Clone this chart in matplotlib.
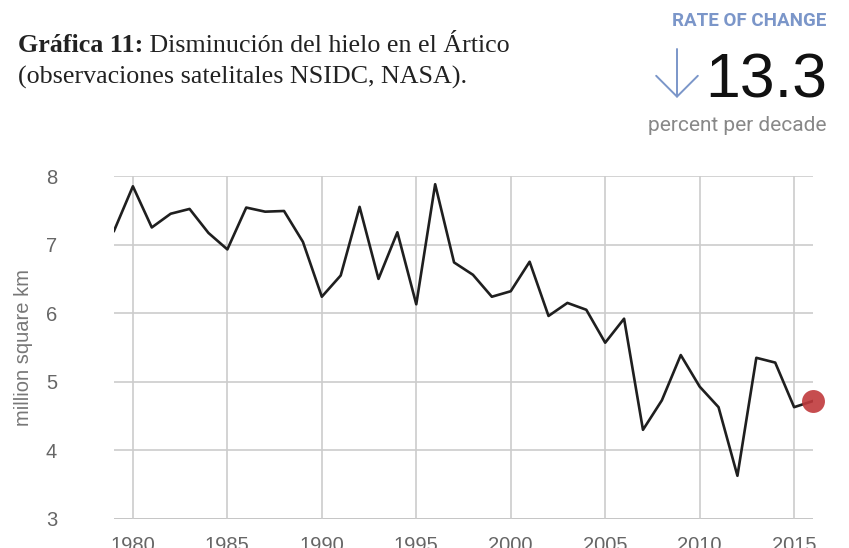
import matplotlib
matplotlib.use("Agg")
import matplotlib.pyplot as plt

years = list(range(1979, 2017))
extent = [7.20, 7.85, 7.25, 7.45, 7.52, 7.17, 6.93, 7.54, 7.48, 7.49,
          7.04, 6.24, 6.55, 7.55, 6.50, 7.18, 6.13, 7.88, 6.74, 6.56,
          6.24, 6.32, 6.75, 5.96, 6.15, 6.05, 5.57, 5.92, 4.30, 4.73,
          5.39, 4.93, 4.63, 3.63, 5.35, 5.28, 4.63, 4.72]

x_ticks = [1980, 1985, 1990, 1995, 2000, 2005, 2010, 2015]
y_ticks = [3, 4, 5, 6, 7, 8]

title_bold = "Gráfica 11:"
title_rest = " Disminución del hielo en el Ártico"
title_line2 = "(observaciones satelitales NSIDC, NASA)."
rate_head = "RATE OF CHANGE"
rate_value = "13.3"
rate_unit = "percent per decade"

plt.rcParams['font.family'] = ['Liberation Sans', 'DejaVu Sans']

W, H = 849, 548
fig = plt.figure(figsize=(W / 100, H / 100), dpi=100)
ax = fig.add_axes([114 / W, 1 - 519 / H, (813 - 114) / W, (519 - 176) / H])

# grid
for yv in y_ticks:
    ax.axhline(yv, color='#bbbbbb' if yv == 3 else '#cccccc', lw=1.2, zorder=1)
for xv in x_ticks:
    ax.axvline(xv, color='#cccccc', lw=1.2, zorder=1)

ax.plot(years, extent, color='#1f1f1f', lw=1.9, zorder=3)
ax.plot(years[-1], extent[-1], 'o', color='#c0393c', alpha=0.9, ms=16.5,
        mec='none', clip_on=False, zorder=4)

ax.set_xlim(1979, 2016)
ax.set_ylim(3, 8)
ax.set_xticks(x_ticks)
ax.set_yticks(y_ticks)
for s in ax.spines.values():
    s.set_visible(False)
ax.tick_params(length=0, labelsize=14.5, labelcolor='#666666')
ax.tick_params(axis='y', pad=41)
ax.tick_params(axis='x', pad=12)
ax.set_ylabel("million square km", fontsize=14.5, color='#777777', labelpad=9)

# title (left)
serif = 'Liberation Serif'
t1 = fig.text(18 / W, 1 - 52 / H, title_bold, fontsize=18.7, family=serif,
              weight='bold', color='#222222', va='baseline')
fig.canvas.draw()
bb = t1.get_window_extent()
fig.text(bb.x1 / W, 1 - 52 / H, title_rest, fontsize=18.7, family=serif,
         color='#222222', va='baseline')
fig.text(18 / W, 1 - 84 / H, title_line2, fontsize=18.7, family=serif,
         color='#222222', va='baseline')

# rate of change box (right)
fig.text(826 / W, 1 - 26 / H, rate_head, fontsize=13.5, family='Roboto',
         weight='bold', color='#7b96c9', ha='right', va='baseline')
fig.text(827 / W, 1 - 97 / H, rate_value, fontsize=45, family='Liberation Sans',
         color='#111111', ha='right', va='baseline')
ax.annotate("", xy=(677 / W, 1 - 98 / H), xytext=(677 / W, 1 - 49 / H),
            xycoords='figure fraction', textcoords='figure fraction',
            arrowprops=dict(arrowstyle='->,head_length=0.5,head_width=0.5',
                            mutation_scale=30, color='#7b96c9', lw=1.4,
                            shrinkA=0, shrinkB=0))
fig.text(826 / W, 1 - 131 / H, rate_unit, fontsize=15, family='Roboto',
         color='#888888', ha='right', va='baseline')

fig.savefig("out.png", dpi=100)
